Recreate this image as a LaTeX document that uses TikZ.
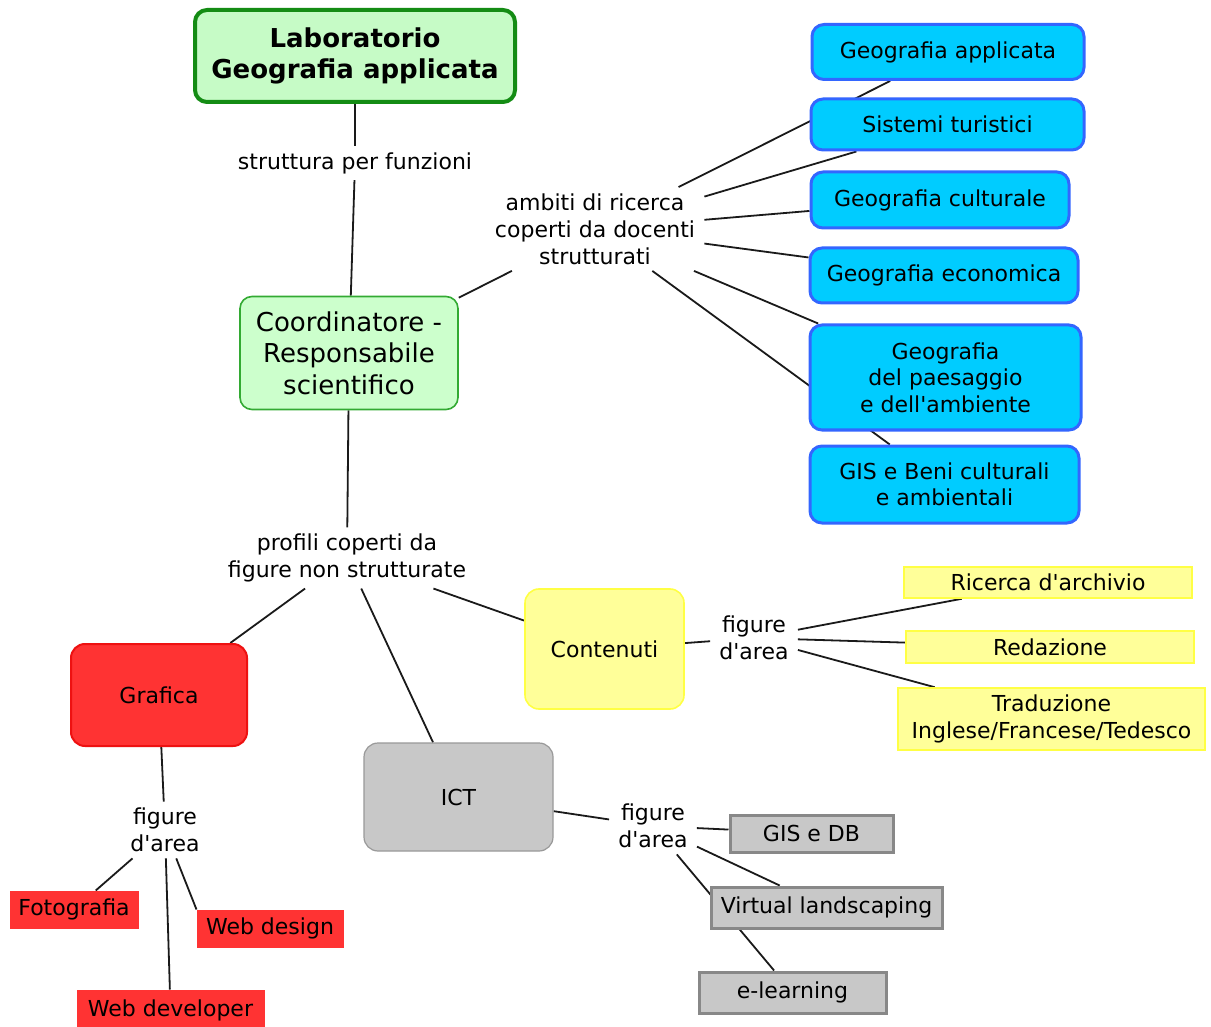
\documentclass[tikz,border=0pt]{standalone}
\usepackage{fontspec}
\setmainfont{DejaVu Sans}
\usetikzlibrary{backgrounds}
\definecolor{labfill}{HTML}{C6FBC6}
\definecolor{labline}{HTML}{148C14}
\definecolor{coofill}{HTML}{CCFFCC}
\definecolor{cooline}{HTML}{33AA33}
\definecolor{bluefill}{HTML}{00CCFF}
\definecolor{blueline}{HTML}{3366FF}
\definecolor{yelfill}{HTML}{FFFF99}
\definecolor{yelline}{HTML}{FFFF44}
\definecolor{redfill}{HTML}{FF3333}
\definecolor{redline}{HTML}{EE1111}
\definecolor{grayfill}{HTML}{C8C8C8}
\definecolor{grayline}{HTML}{999999}
\definecolor{grayline2}{HTML}{888888}
\definecolor{edgecol}{HTML}{1A1A1A}
\newcommand{\ap}{\textquotesingle}
\tikzset{
  txt/.style={align=center, inner sep=0pt, text=black},
  labbox/.style={txt, fill=labfill, draw=labline, line width=2pt, rounded corners=6pt, font=\fontsize{13}{15.5}\selectfont\bfseries},
  coobox/.style={txt, fill=coofill, draw=cooline, line width=0.8pt, rounded corners=6pt, font=\fontsize{13}{15.75}\selectfont},
  bluebox/.style={txt, fill=bluefill, draw=blueline, line width=1.5pt, rounded corners=6pt, font=\fontsize{11}{13.25}\selectfont},
  lbl/.style={align=center, inner xsep=4.5pt, inner ysep=3pt, font=\fontsize{11}{13.5}\selectfont},
  redbig/.style={txt, fill=redfill, draw=redline, line width=1pt, rounded corners=7pt, font=\fontsize{11}{13.5}\selectfont},
  graybig/.style={txt, fill=grayfill, draw=grayline, line width=0.6pt, rounded corners=7pt, font=\fontsize{11}{13.5}\selectfont},
  yelbig/.style={txt, fill=yelfill, draw=yelline, line width=0.8pt, rounded corners=7pt, font=\fontsize{11}{13.5}\selectfont},
  yelsmall/.style={txt, fill=yelfill, draw=yelline, line width=0.8pt, font=\fontsize{11}{13.5}\selectfont},
  redsmall/.style={txt, fill=redfill, draw=redfill, line width=0.5pt, font=\fontsize{11}{13.5}\selectfont},
  graysmall/.style={txt, fill=grayfill, draw=grayline2, line width=1.5pt, font=\fontsize{11}{13.5}\selectfont},
  conn/.style={draw=edgecol, line width=0.9pt}
}
\begin{document}
\begin{tikzpicture}[x=0.5pt,y=-0.5pt]
\useasboundingbox (0,0) rectangle (1211,1027);
% nodes
\node[labbox, minimum width=160pt, minimum height=46pt] (lab) at (355,56) {Laboratorio\\Geografia applicata};
\node[lbl] (str) at (355,163) {struttura per funzioni};
\node[coobox, minimum width=109pt, minimum height=56.5pt] (coo) at (349,353) {Coordinatore -\\Responsabile\\scientifico};
\node[lbl] (amb) at (595,229) {ambiti di ricerca\\coperti da docenti\\strutturati};
\node[bluebox, minimum width=136pt, minimum height=27.5pt] (ga) at (948,52) {Geografia applicata};
\node[bluebox, minimum width=136.5pt, minimum height=25.5pt] (st) at (947.5,124.5) {Sistemi turistici};
\node[bluebox, minimum width=129pt, minimum height=28pt] (gc) at (940,200) {Geografia culturale};
\node[bluebox, minimum width=134pt, minimum height=27.5pt] (ge) at (944,275.5) {Geografia economica};
\node[bluebox, minimum width=135.5pt, minimum height=52.5pt] (gp) at (945.5,377.5) {Geografia\\del paesaggio\\e dell\ap ambiente};
\node[bluebox, minimum width=134.5pt, minimum height=38.5pt] (gis) at (944.5,484.5) {GIS e Beni culturali\\e ambientali};
\node[lbl] (pro) at (347,558) {profili coperti da\\figure non strutturate};
\node[redbig, minimum width=88pt, minimum height=51pt] (gra) at (159,695) {Grafica};
\node[graybig, minimum width=94.5pt, minimum height=54pt] (ict) at (458.5,797) {ICT};
\node[yelbig, minimum width=79.5pt, minimum height=60pt] (con) at (604.5,649) {Contenuti};
\node[lbl] (fc) at (754,638) {figure\\d\ap area};
\node[yelsmall, minimum width=144pt, minimum height=15.5pt] (ric) at (1048,582.5) {Ricerca d\ap archivio};
\node[yelsmall, minimum width=144pt, minimum height=16pt] (red) at (1050,647) {Redazione};
\node[yelsmall, minimum width=153.5pt, minimum height=31pt] (tra) at (1051.5,719) {Traduzione\\Inglese/Francese/Tedesco};
\node[lbl] (fg) at (165,830) {figure\\d\ap area};
\node[redsmall, minimum width=64pt, minimum height=18.5pt] (fot) at (74,909.5) {Fotografia};
\node[redsmall, minimum width=73pt, minimum height=18.5pt] (wds) at (270,928.5) {Web design};
\node[redsmall, minimum width=93.5pt, minimum height=20pt] (wdv) at (170.5,1010) {Web developer};
\node[lbl] (fi) at (653,826) {figure\\d\ap area};
\node[graysmall, minimum width=81.5pt, minimum height=18.5pt] (gdb) at (811.5,833.5) {GIS e DB};
\node[graysmall, minimum width=115.5pt, minimum height=20.5pt] (vl) at (826.5,907.5) {Virtual landscaping};
\node[graysmall, minimum width=93.5pt, minimum height=20.5pt] (el) at (792.5,992.5) {e-learning};
% connectors
\begin{scope}[on background layer]
\fill[white] (0,0) rectangle (1211,1027);
\draw[conn] (lab) -- (str);
\draw[conn] (str) -- (coo);
\draw[conn] (coo) -- (amb);
\draw[conn] (amb) -- (ga);
\draw[conn] (amb) -- (st);
\draw[conn] (amb) -- (gc);
\draw[conn] (amb) -- (ge);
\draw[conn] (amb) -- (gp);
\draw[conn] (amb) -- (gis);
\draw[conn] (coo) -- (pro);
\draw[conn] (pro) -- (gra);
\draw[conn] (pro) -- (ict);
\draw[conn] (pro) -- (con);
\draw[conn] (con) -- (fc);
\draw[conn] (fc) -- (ric);
\draw[conn] (fc) -- (red);
\draw[conn] (fc) -- (tra);
\draw[conn] (gra) -- (fg);
\draw[conn] (fg) -- (fot);
\draw[conn] (fg) -- (wds.north west);
\draw[conn] (fg) -- (wdv);
\draw[conn] (ict) -- (fi);
\draw[conn] (fi) -- (gdb);
\draw[conn] (fi) -- (vl);
\draw[conn] (fi) -- (el);
\end{scope}
\end{tikzpicture}
\end{document}
